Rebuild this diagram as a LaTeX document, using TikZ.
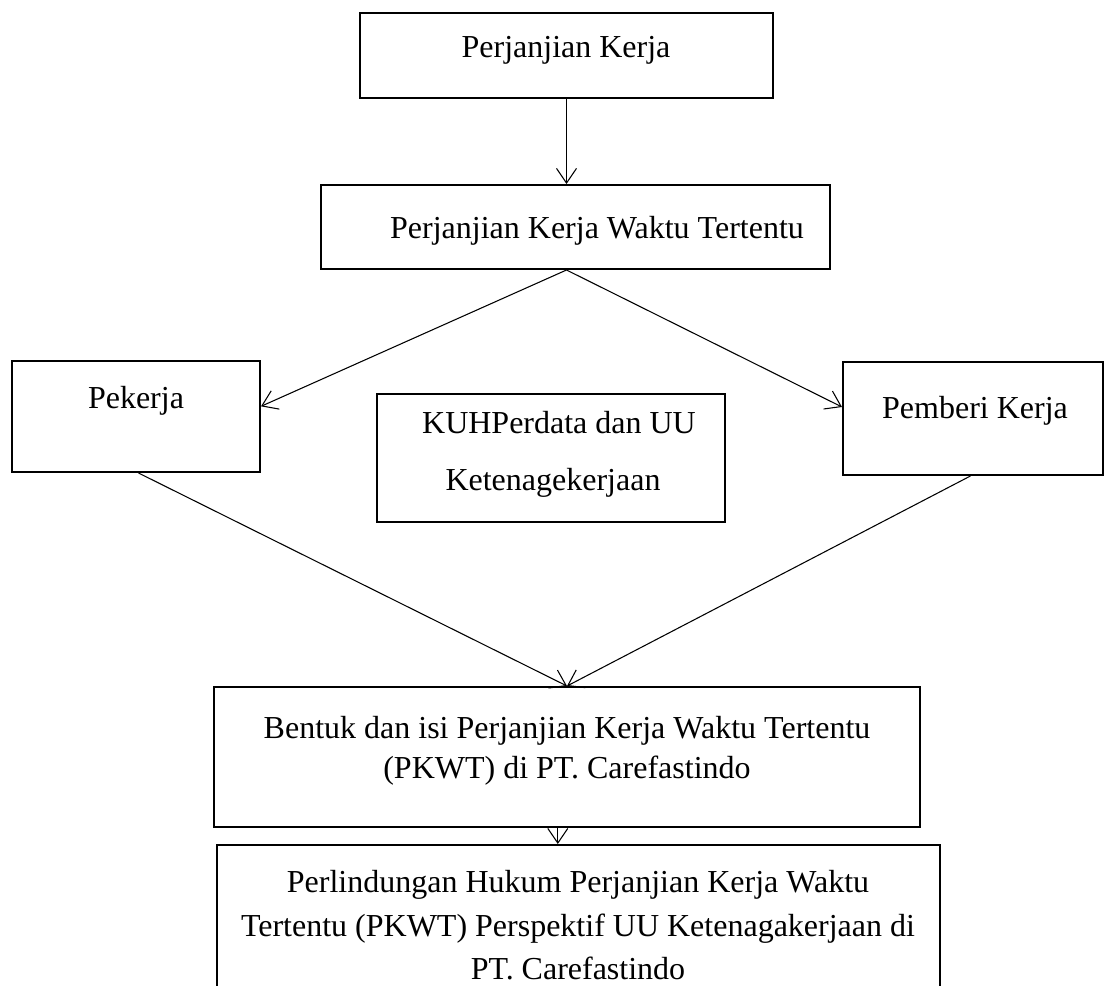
\documentclass[tikz,border=0pt]{standalone}
\usepackage{fontspec}
\setmainfont{Liberation Serif}
\usetikzlibrary{arrows.meta,fit,calc}
\begin{document}
\begin{tikzpicture}[x=0.75pt,y=-0.75pt,
  box/.style={draw,line width=1.5pt,inner sep=0pt,rectangle},
  lbl/.style={anchor=base,inner sep=0pt,font=\fontsize{24}{24}\selectfont},
  conn/.style={line width=0.8pt,-{Straight Barb[length=11pt,width=15pt,line width=0.8pt]}}]
\useasboundingbox (0,0) rectangle (1105,985);
\clip (0,0) rectangle (1105,985);
% boxes
\node[box,fit={(360,13)(773,98)}] (b1) {};
\node[box,fit={(321,185)(830,269)}] (b2) {};
\node[box,fit={(12,361)(260,472)}] (pek) {};
\node[box,fit={(377,394)(725,522)}] (kuh) {};
\node[box,fit={(843,362)(1103,475)}] (pem) {};
\node[box,fit={(214,687)(920,827)}] (b3) {};
\node[box,fit={(217,845)(940,1010)}] (b4) {};
% texts
\node[lbl] (t1) at (566,57) {Perjanjian Kerja};
\node[lbl] (t2) at (597,238) {Perjanjian Kerja Waktu Tertentu};
\node[lbl] (t3) at (136,408) {Pekerja};
\node[lbl] (t4) at (975,418) {Pemberi Kerja};
\node[lbl] (t5a) at (559,433) {KUHPerdata dan UU};
\node[lbl] (t5b) at (553,490) {Ketenagekerjaan};
\node[lbl] (t6a) at (567,738) {Bentuk dan isi Perjanjian Kerja Waktu Tertentu};
\node[lbl] (t6b) at (567,778) {(PKWT) di PT. Carefastindo};
\node[lbl] (t7a) at (578,892) {Perlindungan Hukum Perjanjian Kerja Waktu};
\node[lbl] (t7b) at (578,936) {Tertentu (PKWT) Perspektif UU Ketenagakerjaan di};
\node[lbl] (t7c) at (578,979) {PT. Carefastindo};
% anchor points on borders
\coordinate (b2out) at (b1.south |- b2.south);
\coordinate (pekin) at ($(pek.north east)!0.41!(pek.south east)$);
\coordinate (pemin) at ($(pem.north west)!0.40!(pem.south west)$);
\coordinate (pekout) at ($(pek.south west)!0.51!(pek.south east)$);
\coordinate (pemout) at ($(pem.south west)!0.49!(pem.south east)$);
\coordinate (b3out) at ($(b3.south west)!0.487!(b3.south east)$);
\coordinate (b4in) at (b3out |- b4.north);
% connectors
\draw[conn] (b1.south) -- (b1.south |- b2.north);
\draw[conn] (b2out) -- (pekin);
\draw[conn] (b2out) -- (pemin);
\draw[conn] (pekout) -- (b3.north);
\draw[conn] (pemout) -- (b3.north);
\draw[conn] (b3out) -- (b4in);
\end{tikzpicture}
\end{document}
